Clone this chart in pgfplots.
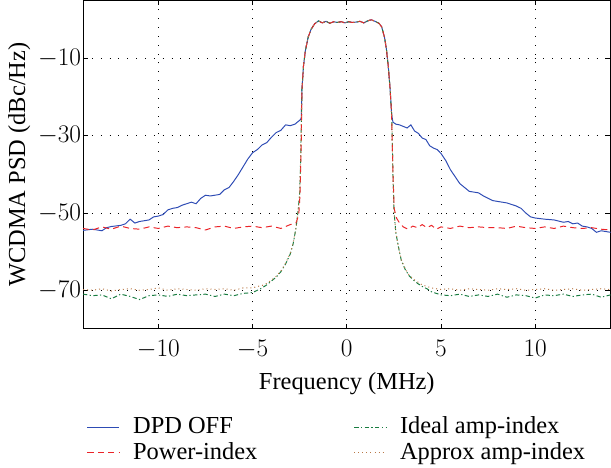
\documentclass[border=0pt]{standalone}
\usepackage{pgfplots}
\pgfplotsset{compat=1.18}
\usepackage{fontspec}
\setmainfont{Liberation Serif}

\definecolor{cblue}{RGB}{45,75,180}
\definecolor{cred}{RGB}{235,35,40}
\definecolor{cgreen}{RGB}{25,125,65}
\definecolor{cbrown}{RGB}{185,120,70}

\begin{document}
\fontsize{20}{24}\selectfont
\begin{tikzpicture}
\begin{axis}[
    scale only axis,
    width=432pt,
    height=269pt,
    xmin=-14, xmax=14,
    ymin=-80, ymax=5,
    xtick={-10,-5,0,5,10},
    ytick={-70,-50,-30,-10},
    xlabel={Frequency (MHz)},
    ylabel={WCDMA PSD (dBc/Hz)},
    ylabel style={yshift=-2pt},
    xlabel style={yshift=2pt},
    yticklabel style={inner xsep=1.5pt},
    xticklabel style={yshift=-2pt},
    grid=major,
    grid style={black, line width=0.75pt, dash pattern=on 0.75pt off 6.5pt},
    axis line style={line width=0.7pt},
    major tick length=4pt,
    tick style={black, line width=0.7pt},
    tick label style={font=\fontsize{20}{24}\selectfont},
    label style={font=\fontsize{20}{24}\selectfont},
    legend columns=2,
    legend cell align=left,
    legend style={at={(0,-0.252)}, anchor=north west, draw=none, fill=none,
        font=\fontsize{20}{24}\selectfont, row sep=0pt},
    /tikz/every odd column/.append style={column sep=9pt},
    /tikz/every even column/.append style={column sep=77pt},
    legend image code/.code={\draw[#1] (0pt,0pt) -- (26pt,0pt);},
]

% DPD OFF
\addplot[cblue, line width=0.8pt] coordinates {
(-14,-54.5) (-13.5,-54.2) (-13,-54.6) (-12.75,-53.8) (-12.5,-53.5) (-12,-53.2)
(-11.75,-52.8) (-11.5,-51.6) (-11.25,-52.6) (-11,-52.2) (-10.5,-51.8) (-10.25,-51.0)
(-10,-50.8) (-9.75,-50.4) (-9.5,-49.2) (-9.25,-48.8) (-9,-48.6) (-8.75,-48.0)
(-8.5,-47.6) (-8.25,-47.2) (-8,-47.6) (-7.75,-46.2) (-7.5,-45.4) (-7.25,-45.6)
(-7,-45.4) (-6.75,-45.2) (-6.5,-44.0) (-6.25,-43.4) (-6,-41.8) (-5.75,-40.0)
(-5.5,-38.0) (-5.25,-36.0) (-5,-34.4) (-4.75,-33.6) (-4.5,-32.4) (-4.25,-31.8)
(-4,-30.4) (-3.75,-29.2) (-3.5,-28.6) (-3.25,-27.2) (-3,-27.4) (-2.75,-27.0)
(-2.5,-26.0) (-2.42,-25.6)
(-2.38,-18) (-2.3,-12) (-2.2,-8) (-2.05,-4.5) (-1.9,-2.5) (-1.7,-1.0) (-1.5,-0.3)
(-1.3,-0.8) (-1.1,-0.4) (-0.9,-0.9) (-0.7,-0.5) (-0.5,-0.7) (-0.3,-0.5) (-0.1,-0.8)
(0.1,-0.5) (0.3,-0.7) (0.5,-0.6) (0.7,-0.4) (0.9,-0.8) (1.1,-0.3) (1.3,0.0)
(1.5,-0.4) (1.7,-0.9) (1.85,-1.8) (2.0,-4.5) (2.1,-7.5) (2.2,-12) (2.3,-18)
(2.38,-24.5) (2.45,-26.5)
(2.6,-27.0) (2.8,-27.2) (3.0,-27.6) (3.2,-28.0) (3.4,-27.2) (3.6,-28.8)
(3.8,-29.4) (4.0,-30.6) (4.2,-31.0) (4.4,-32.6) (4.6,-33.2) (4.8,-33.6)
(5.0,-34.6) (5.25,-36.4) (5.5,-38.8) (5.75,-40.6) (6.0,-42.4) (6.25,-43.4)
(6.5,-44.4) (6.75,-44.6) (7.0,-44.8) (7.25,-45.6) (7.5,-46.2) (7.75,-46.8)
(8.0,-47.0) (8.5,-47.4) (8.75,-47.8) (9.0,-48.2) (9.25,-48.8) (9.5,-50.0)
(9.75,-51.0) (10.0,-51.3) (10.5,-51.6) (11.0,-51.8) (11.5,-52.4) (11.75,-52.2)
(12.0,-52.8) (12.25,-52.6) (12.5,-53.4) (12.75,-53.6) (13.0,-54.0) (13.25,-55.0)
(13.5,-54.6) (14.0,-55.0)
};

% Ideal amp-index
\addplot[cgreen, line width=0.8pt, dash pattern=on 3.5pt off 2pt on 1pt off 2pt] coordinates {
(-14,-71.0) (-13.5,-71.4) (-13,-71.2) (-12.5,-72.2) (-12,-71.0) (-11.5,-71.6)
(-11,-72.4) (-10.5,-71.4) (-10,-71.2) (-9.5,-71.6) (-9,-71.0) (-8.5,-71.4)
(-8,-71.2) (-7.5,-71.0) (-7,-71.6) (-6.5,-71.0) (-6,-71.4) (-5.5,-70.8)
(-5,-70.6) (-4.75,-70.0) (-4.5,-69.4) (-4.25,-68.6) (-4,-67.6) (-3.75,-66.6)
(-3.5,-65.2) (-3.25,-63.2) (-3,-60.6) (-2.85,-58) (-2.7,-54) (-2.6,-50)
(-2.5,-45) (-2.45,-36) (-2.4,-24)
(-2.38,-18) (-2.3,-12) (-2.2,-8) (-2.05,-4.5) (-1.9,-2.5) (-1.7,-1.0) (-1.5,-0.3)
(-1.3,-0.8) (-1.1,-0.4) (-0.9,-0.9) (-0.7,-0.5) (-0.5,-0.7) (-0.3,-0.5) (-0.1,-0.8)
(0.1,-0.5) (0.3,-0.7) (0.5,-0.6) (0.7,-0.4) (0.9,-0.8) (1.1,-0.3) (1.3,0.0)
(1.5,-0.4) (1.7,-0.9) (1.85,-1.8) (2.0,-4.5) (2.1,-7.5) (2.2,-12) (2.3,-18)
(2.38,-24.5)
(2.45,-40) (2.5,-49) (2.6,-55) (2.75,-59) (2.9,-62.4) (3.1,-64.6) (3.3,-66.2)
(3.5,-67.2) (3.75,-68.2) (4.0,-69.0) (4.25,-69.6) (4.5,-70.4) (4.75,-70.8)
(5.0,-71.2) (5.5,-71.4) (6.0,-71.0) (6.5,-71.6) (7.0,-71.2) (7.5,-71.6)
(8.0,-71.0) (8.5,-71.8) (9.0,-71.2) (9.5,-71.4) (10.0,-72.0) (10.5,-71.2)
(11.0,-71.4) (11.5,-71.0) (12.0,-71.6) (12.5,-71.2) (13.0,-71.0) (13.5,-71.8)
(14.0,-71.2)
};

% Power-index
\addplot[cred, line width=0.8pt, dash pattern=on 5pt off 3.5pt] coordinates {
(-14,-54.0) (-13.5,-54.4) (-13,-53.6) (-12.5,-54.2) (-12,-53.4) (-11.5,-54.0)
(-11,-54.2) (-10.5,-53.6) (-10,-54.0) (-9.5,-53.4) (-9,-53.8) (-8.5,-53.6)
(-8,-53.8) (-7.5,-54.4) (-7,-53.6) (-6.5,-53.4) (-6,-54.0) (-5.5,-53.6)
(-5,-53.4) (-4.5,-53.8) (-4,-53.4) (-3.5,-54.0) (-3,-53.0) (-2.7,-52.6)
(-2.55,-50.5) (-2.48,-45) (-2.42,-32)
(-2.38,-18) (-2.3,-12) (-2.2,-8) (-2.05,-4.5) (-1.9,-2.5) (-1.7,-1.0) (-1.5,-0.3)
(-1.3,-0.8) (-1.1,-0.4) (-0.9,-0.9) (-0.7,-0.5) (-0.5,-0.7) (-0.3,-0.5) (-0.1,-0.8)
(0.1,-0.5) (0.3,-0.7) (0.5,-0.6) (0.7,-0.4) (0.9,-0.8) (1.1,-0.3) (1.3,0.0)
(1.5,-0.4) (1.7,-0.9) (1.85,-1.8) (2.0,-4.5) (2.1,-7.5) (2.2,-12) (2.3,-18)
(2.38,-24.5)
(2.45,-40) (2.52,-49) (2.65,-51.4) (2.8,-52.6) (3.0,-53.6) (3.25,-54.2)
(3.5,-53.4) (3.75,-53.8) (4.0,-53.0) (4.25,-53.8) (4.5,-53.2) (4.75,-54.2)
(5.0,-53.6) (5.5,-54.0) (6.0,-53.4) (6.5,-53.8) (7.0,-53.6) (7.5,-53.8)
(8.0,-53.8) (8.5,-54.0) (9.0,-53.4) (9.5,-53.8) (10.0,-54.0) (10.5,-53.6)
(11.0,-54.0) (11.5,-53.4) (12.0,-53.8) (12.5,-54.0) (13.0,-53.8) (13.5,-54.2)
(14.0,-54.4)
};

% Approx amp-index
\addplot[cbrown, line width=0.8pt, dash pattern=on 0.8pt off 2.5pt] coordinates {
(-14,-69.8) (-13.5,-70.0) (-13,-69.6) (-12.5,-70.2) (-12,-69.8) (-11.5,-69.6)
(-11,-70.0) (-10.5,-69.8) (-10,-69.4) (-9.5,-70.0) (-9,-69.6) (-8.5,-69.8)
(-8,-70.0) (-7.5,-69.6) (-7,-69.8) (-6.5,-69.6) (-6,-70.0) (-5.5,-69.4)
(-5,-69.4) (-4.75,-69.0) (-4.5,-68.8) (-4.25,-68.2) (-4,-67.4) (-3.75,-66.4)
(-3.5,-65.0) (-3.25,-63.0) (-3,-60.4) (-2.85,-57.8) (-2.7,-54) (-2.6,-50)
(-2.5,-45) (-2.45,-36) (-2.4,-24)
(-2.38,-18) (-2.3,-12) (-2.2,-8) (-2.05,-4.5) (-1.9,-2.5) (-1.7,-1.0) (-1.5,-0.3)
(-1.3,-0.8) (-1.1,-0.4) (-0.9,-0.9) (-0.7,-0.5) (-0.5,-0.7) (-0.3,-0.5) (-0.1,-0.8)
(0.1,-0.5) (0.3,-0.7) (0.5,-0.6) (0.7,-0.4) (0.9,-0.8) (1.1,-0.3) (1.3,0.0)
(1.5,-0.4) (1.7,-0.9) (1.85,-1.8) (2.0,-4.5) (2.1,-7.5) (2.2,-12) (2.3,-18)
(2.38,-24.5)
(2.45,-40) (2.5,-49) (2.6,-55) (2.75,-59) (2.9,-62.2) (3.1,-64.4) (3.3,-66.0)
(3.5,-67.0) (3.75,-67.8) (4.0,-68.6) (4.25,-69.0) (4.5,-69.4) (4.75,-69.6)
(5.0,-69.8) (5.5,-69.6) (6.0,-70.0) (6.5,-69.6) (7.0,-69.8) (7.5,-70.0)
(8.0,-69.6) (8.5,-69.8) (9.0,-69.6) (9.5,-70.0) (10.0,-69.8) (10.5,-69.6)
(11.0,-70.0) (11.5,-69.8) (12.0,-69.6) (12.5,-70.0) (13.0,-69.8) (13.5,-69.6)
(14.0,-69.8)
};

\legend{DPD OFF, Ideal amp-index, Power-index, Approx amp-index}
\end{axis}
\end{tikzpicture}
\end{document}
